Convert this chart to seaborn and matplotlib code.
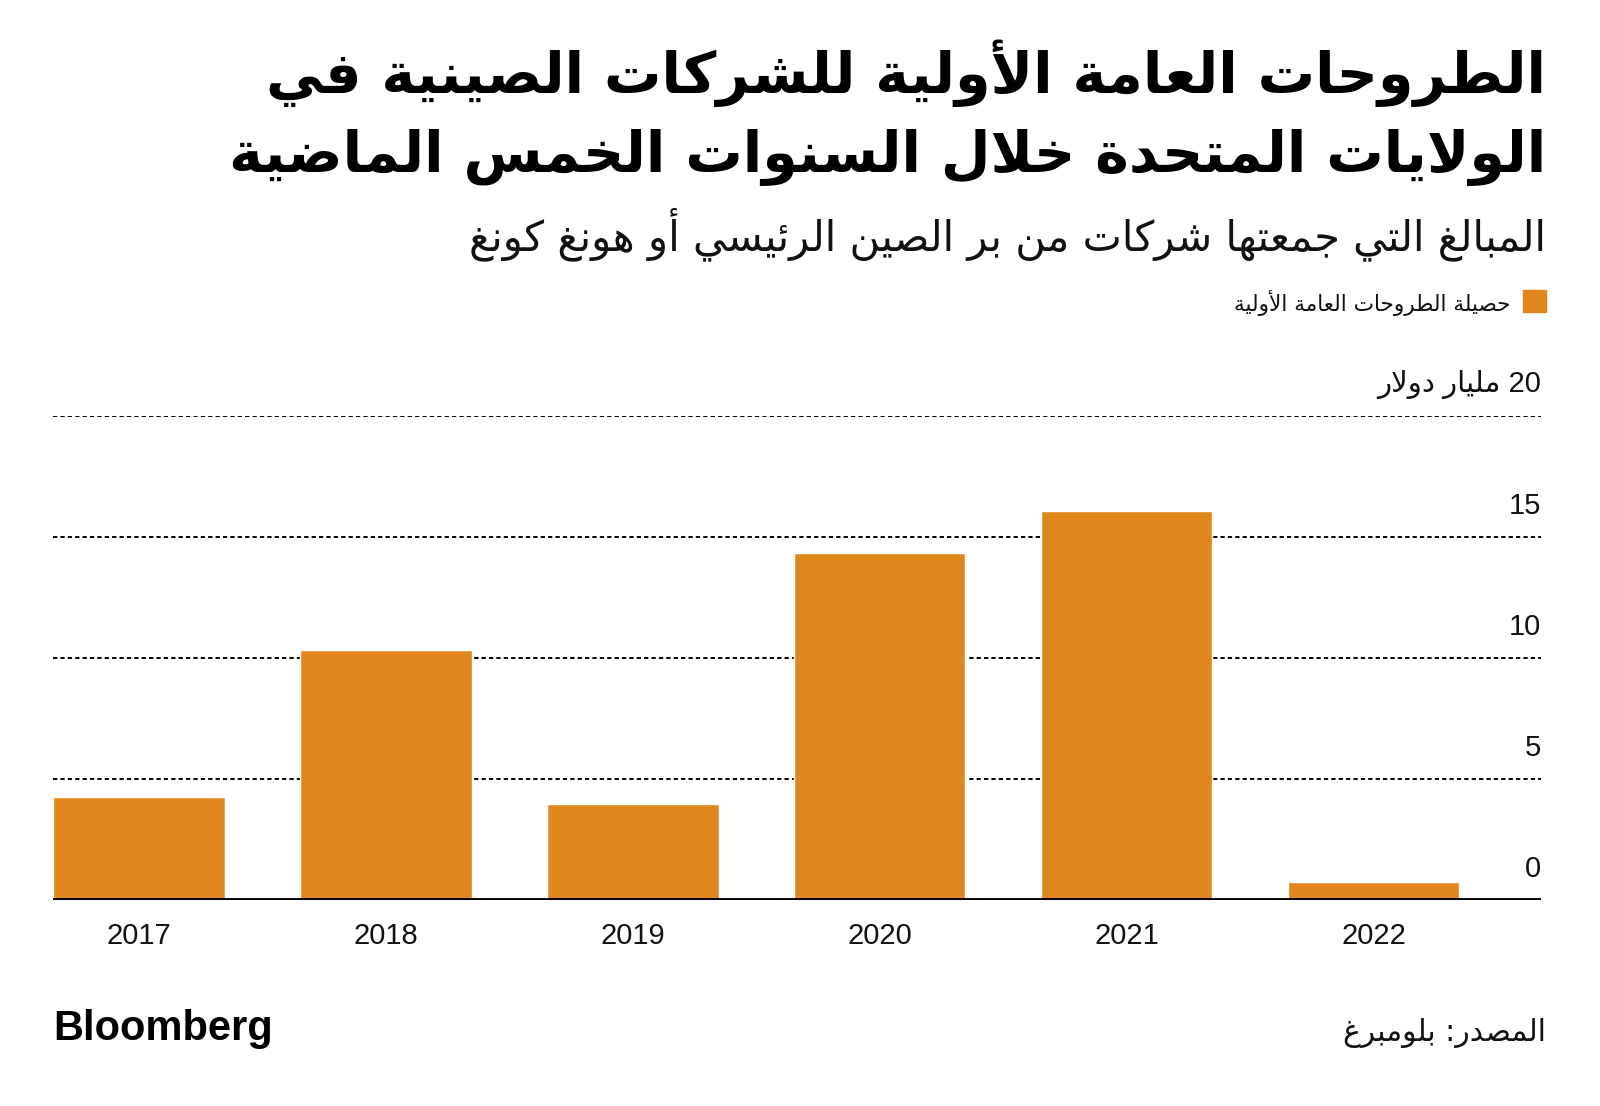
import matplotlib
matplotlib.use("Agg")
import matplotlib.pyplot as plt
from matplotlib.patches import Rectangle
import pandas as pd
import seaborn as sns

# data (billion USD)
years = ["2017", "2018", "2019", "2020", "2021", "2022"]
ipo_proceeds = [4.26, 10.33, 3.98, 14.34, 16.09, 0.74]
y_ticks = [0, 5, 10, 15, 20]
y_unit = "مليار دولار"

title_lines = ["الطروحات العامة الأولية للشركات الصينية في",
               "الولايات المتحدة خلال السنوات الخمس الماضية"]
subtitle = "المبالغ التي جمعتها شركات من بر الصين الرئيسي أو هونغ كونغ"
legend_label = "حصيلة الطروحات العامة الأولية"
source = "المصدر: بلومبرغ"

ORANGE = "#E0881E"

# --- tiny arabic shaper (matplotlib has no bidi / shaping) ---
# base letter -> (first presentation form, number of forms); 4 = dual joining
FORMS = {
    "ء": (0xFE80, 1), "آ": (0xFE81, 2), "أ": (0xFE83, 2), "ؤ": (0xFE85, 2),
    "إ": (0xFE87, 2), "ئ": (0xFE89, 4), "ا": (0xFE8D, 2), "ب": (0xFE8F, 4),
    "ة": (0xFE93, 2), "ت": (0xFE95, 4), "ث": (0xFE99, 4), "ج": (0xFE9D, 4),
    "ح": (0xFEA1, 4), "خ": (0xFEA5, 4), "د": (0xFEA9, 2), "ذ": (0xFEAB, 2),
    "ر": (0xFEAD, 2), "ز": (0xFEAF, 2), "س": (0xFEB1, 4), "ش": (0xFEB5, 4),
    "ص": (0xFEB9, 4), "ض": (0xFEBD, 4), "ط": (0xFEC1, 4), "ظ": (0xFEC5, 4),
    "ع": (0xFEC9, 4), "غ": (0xFECD, 4), "ف": (0xFED1, 4), "ق": (0xFED5, 4),
    "ك": (0xFED9, 4), "ل": (0xFEDD, 4), "م": (0xFEE1, 4), "ن": (0xFEE5, 4),
    "ه": (0xFEE9, 4), "و": (0xFEED, 2), "ى": (0xFEEF, 2), "ي": (0xFEF1, 4),
}
LAM_ALEF = {"آ": 0xFEF5, "أ": 0xFEF7, "إ": 0xFEF9, "ا": 0xFEFB}


def ar(text):
    tokens = []
    i = 0
    while i < len(text):
        c = text[i]
        if c == "ل" and i + 1 < len(text) and text[i + 1] in LAM_ALEF:
            tokens.append((LAM_ALEF[text[i + 1]], 2))
            i += 2
        elif c in FORMS:
            tokens.append(FORMS[c])
            i += 1
        else:
            tokens.append(c)
            i += 1
    out = []
    for k, t in enumerate(tokens):
        if isinstance(t, str):
            out.append(t)
            continue
        start, n = t
        prev = tokens[k - 1] if k > 0 else None
        nxt = tokens[k + 1] if k + 1 < len(tokens) else None
        j_prev = n > 1 and isinstance(prev, tuple) and prev[1] == 4
        j_next = n == 4 and isinstance(nxt, tuple)
        if j_prev and j_next:
            form = 3
        elif j_prev:
            form = 1
        elif j_next:
            form = 2
        else:
            form = 0
        out.append(chr(start + form))
    return "".join(reversed(out))


df = pd.DataFrame({"year": years, "value": ipo_proceeds})

sns.set_theme(style="white")
plt.rcParams["font.family"] = ["Liberation Sans", "DejaVu Sans"]

fig = plt.figure(figsize=(16, 11.06), dpi=100)
ax = fig.add_axes([53 / 1600, 1 - 900 / 1106, 1488 / 1600, (900 - 416) / 1106])

sns.barplot(data=df, x="year", y="value", color=ORANGE, saturation=1,
            width=0.695, ax=ax, zorder=2)
ax.set_xlim(-0.3475, 5.678)
ax.set_ylim(0, 20)
ax.set_yticks(y_ticks)
ax.set_yticklabels([])
ax.tick_params(axis="y", length=0)
ax.yaxis.grid(True, color="black", linestyle=(0, (2.2, 1.6)), linewidth=1.4)
ax.set_axisbelow(True)
ax.axhline(0, color="black", linewidth=2.8, zorder=3)
sns.despine(ax=ax, left=True, bottom=True)
ax.set_xlabel("")
ax.set_ylabel("")
ax.tick_params(axis="x", length=0, pad=16, labelsize=21, labelcolor="#111111")

for v in y_ticks:
    label = str(v) if v != y_ticks[-1] else ar(y_unit) + " " + str(v)
    ax.annotate(label, xy=(1.0, v), xycoords=ax.get_yaxis_transform(),
                xytext=(0, 12), textcoords="offset points",
                ha="right", va="bottom", fontsize=21, color="#111111")

# titles
fig.text(1546 / 1600, 1 - 73 / 1106, ar(title_lines[0]), ha="right", va="center",
         fontsize=41.2, fontweight="bold", family="DejaVu Sans", color="black")
fig.text(1546 / 1600, 1 - 157 / 1106, ar(title_lines[1]), ha="right", va="center",
         fontsize=41.2, fontweight="bold", family="DejaVu Sans", color="black")
fig.text(1546 / 1600, 1 - 234 / 1106, ar(subtitle), ha="right", va="center",
         fontsize=30, family="DejaVu Sans", color="#111111")

# legend
fig.patches.append(Rectangle((1523 / 1600, 1 - 312 / 1106), 23 / 1600, 22 / 1106,
                             transform=fig.transFigure, color=ORANGE))
fig.text(1510 / 1600, 1 - 303 / 1106, ar(legend_label), ha="right", va="center",
         fontsize=15.6, family="DejaVu Sans", color="#111111")

# footer
fig.text(53 / 1600, 1 - 1029 / 1106, "Bloomberg", ha="left", va="center",
         fontsize=30, fontweight="bold", family="Liberation Sans", color="black")
fig.text(1546 / 1600, 1 - 1033 / 1106, ar(source), ha="right", va="center",
         fontsize=21.4, family="DejaVu Sans", color="#111111")

plt.savefig("out.png", dpi=100, facecolor="white")
